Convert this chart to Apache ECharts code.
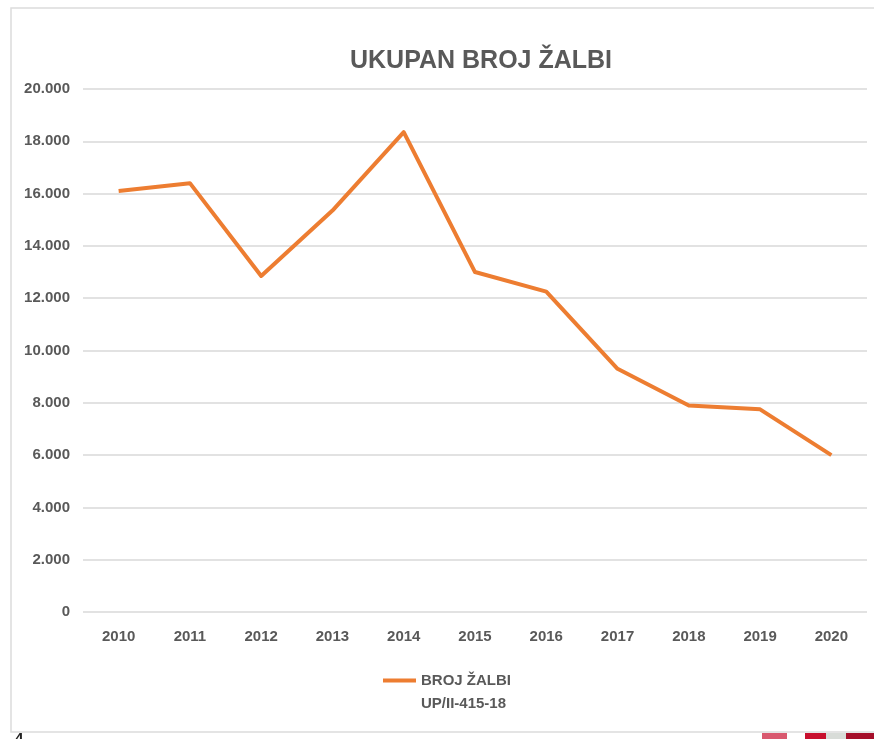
<!DOCTYPE html>
<html>
<head>
<meta charset="utf-8">
<title>Ukupan broj žalbi</title>
<script src="https://cdn.jsdelivr.net/npm/echarts@6/dist/echarts.min.js"></script>
<style>
  html, body { margin: 0; padding: 0; background: #fff; }
  #chart { width: 874px; height: 739px; }
</style>
</head>
<body>
<div id="chart"></div>
<script>
var years = ["2010", "2011", "2012", "2013", "2014", "2015", "2016", "2017", "2018", "2019", "2020"];
var brojZalbi = [16100, 16400, 12850, 15350, 18350, 13000, 12250, 9300, 7900, 7750, 6000];
var seriesName = "BROJ ŽALBI UP/II-415-18";

var font = "'Liberation Sans', Arial, sans-serif";
var labelColor = "#595959";

var chart = echarts.init(document.getElementById("chart"));

// legend icon: line at the top of a taller box so it sits next to the first text line
var legendIcon = "path://M0,0L33,0L33,4L0,4Z M0,26.9L0.05,26.9L0.05,27L0,27Z";

var option = {
  backgroundColor: "#fff",
  animation: false,
  title: {
    text: "UKUPAN BROJ ŽALBI",
    left: 476,
    top: 44,
    textAlign: "center",
    textStyle: {
      fontFamily: font,
      fontSize: 25,
      fontWeight: "bold",
      color: labelColor
    }
  },
  legend: {
    left: 383,
    top: 669,
    padding: 0,
    itemWidth: 33,
    itemHeight: 27,
    itemGap: 10,
    icon: legendIcon,
    data: [seriesName],
    formatter: function () {
      return "BROJ ŽALBI\nUP/II-415-18";
    },
    itemStyle: { color: "#ED7D31" },
    textStyle: {
      fontFamily: font,
      fontSize: 15,
      fontWeight: "bold",
      color: labelColor,
      lineHeight: 23
    }
  },
  grid: {
    left: 83,
    right: 7,
    top: 89,
    bottom: 127
  },
  xAxis: {
    type: "category",
    data: years,
    boundaryGap: true,
    axisLine: { show: false },
    axisTick: { show: false },
    axisLabel: {
      margin: 17,
      fontFamily: font,
      fontSize: 15,
      fontWeight: "bold",
      color: labelColor
    }
  },
  yAxis: {
    type: "value",
    min: 0,
    max: 20000,
    interval: 2000,
    axisLine: { show: false },
    axisTick: { show: false },
    axisLabel: {
      margin: 13,
      fontFamily: font,
      fontSize: 15,
      fontWeight: "bold",
      color: labelColor,
      formatter: function (v) {
        return v === 0 ? "0" : (v / 1000).toFixed(3);
      }
    },
    splitLine: { lineStyle: { color: "#d9d9d9", width: 1.5 } }
  },
  series: [
    {
      name: seriesName,
      type: "line",
      data: brojZalbi,
      symbol: "none",
      lineStyle: { color: "#ED7D31", width: 4, join: "round" },
      itemStyle: { color: "#ED7D31" }
    }
  ],
  graphic: [
    {
      type: "rect",
      shape: { x: 11, y: 8, width: 880, height: 724 },
      style: { fill: "none", stroke: "#dcdcdc", lineWidth: 1.5 },
      z: -1
    },
    {
      type: "text",
      left: 15,
      top: 731,
      style: { text: "4", font: "bold 15px 'Liberation Sans', Arial", fill: "#222" }
    },
    { type: "rect", shape: { x: 762, y: 733, width: 25, height: 6 }, style: { fill: "#d9596f" } },
    { type: "rect", shape: { x: 805, y: 733, width: 21, height: 6 }, style: { fill: "#c8102e" } },
    { type: "rect", shape: { x: 826, y: 733, width: 20, height: 6 }, style: { fill: "#d8dcd8" } },
    { type: "rect", shape: { x: 846, y: 733, width: 28, height: 6 }, style: { fill: "#a50f2a" } }
  ]
};

chart.setOption(option);
window.addEventListener("resize", function () { chart.resize(); });
</script>
</body>
</html>
